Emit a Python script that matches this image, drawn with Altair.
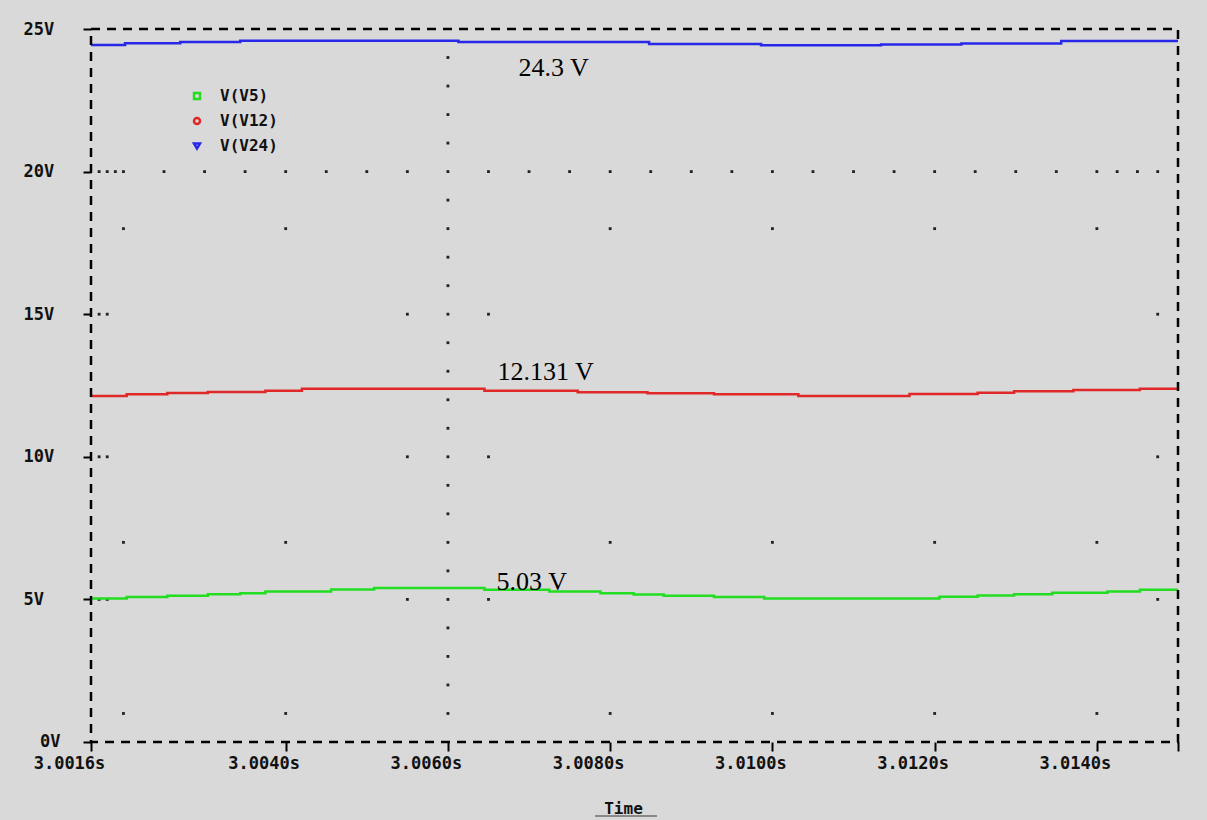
import altair as alt
import pandas as pd

# Trace names, colours and legend symbols
names = ["V(V5)", "V(V12)", "V(V24)"]
colors = ["#22dd22", "#e02828", "#2828e8"]
shapes = ["square", "circle", "triangle-down"]

# Sampled transient traces (time in s, voltage in V), held between samples
v5_t = [3.00160, 3.00204, 3.00254, 3.00304, 3.00344, 3.00375, 3.00456, 3.00509,
        3.00645, 3.00725, 3.00788, 3.00829, 3.00866, 3.00928, 3.00990, 3.01206,
        3.01253, 3.01298, 3.01345, 3.01413, 3.01453, 3.01500]
v5_v = [5.03, 5.08, 5.13, 5.18, 5.22, 5.28, 5.35, 5.40,
        5.34, 5.28, 5.22, 5.17, 5.13, 5.08, 5.03, 5.09,
        5.14, 5.18, 5.23, 5.28, 5.34, 5.34]

v12_t = [3.00160, 3.00204, 3.00254, 3.00304, 3.00375, 3.00420, 3.00645, 3.00760,
         3.00846, 3.00928, 3.01032, 3.01169, 3.01253, 3.01298, 3.01371, 3.01453,
         3.01500]
v12_v = [12.13, 12.19, 12.24, 12.27, 12.32, 12.39, 12.32, 12.26,
         12.23, 12.19, 12.131, 12.20, 12.25, 12.30, 12.34, 12.39,
         12.39]

v24_t = [3.00160, 3.00202, 3.00270, 3.00344, 3.00613, 3.00848, 3.00986, 3.01134,
         3.01233, 3.01356, 3.01500]
v24_v = [24.44, 24.50, 24.54, 24.59, 24.54, 24.47, 24.43, 24.46,
         24.49, 24.58, 24.58]

# Value annotations: text, anchor time, anchor voltage
note_text = ["24.3 V", "12.131 V", "5.03 V"]
note_t = [3.00687, 3.00661, 3.00660]
note_v = [23.35, 12.69, 5.33]

# Axis ticks
x_ticks = [3.0016, 3.0040, 3.0060, 3.0080, 3.0100, 3.0120, 3.0140, 3.0150]
y_ticks = [0, 5, 10, 15, 20, 25]

# Dotted grid marks of the probe window
row20_t = [3.0017, 3.0018, 3.0019, 3.0020, 3.0025, 3.0030, 3.0035, 3.0040,
           3.0045, 3.0050, 3.0055, 3.0060, 3.0065, 3.0070, 3.0075, 3.0080,
           3.0085, 3.0090, 3.0095, 3.0100, 3.0105, 3.0110, 3.0115, 3.0120,
           3.0125, 3.0130, 3.0135, 3.0140, 3.01425, 3.0145, 3.01475]
col_v = [1, 2, 3, 4, 5, 6, 7, 8, 9, 10, 11, 12, 13, 14, 15, 16, 17, 18, 19,
         21, 22, 23, 24]
sparse_rows_v = [18, 7, 1]
sparse_rows_t = [3.0020, 3.0040, 3.0080, 3.0100, 3.0120, 3.0140]
mid_rows_v = [15, 10, 5]
mid_rows_t = [3.0017, 3.0018, 3.0055, 3.0065, 3.01475]

MONO = "DejaVu Sans Mono"

trace_t = [v5_t, v12_t, v24_t]
trace_v = [v5_v, v12_v, v24_v]
traces = pd.concat(
    [pd.DataFrame({"t": t, "v": v, "series": n}) for t, v, n in zip(trace_t, trace_v, names)],
    ignore_index=True,
)

dot_rows = [{"t": t, "v": 20} for t in row20_t]
dot_rows += [{"t": 3.0060, "v": v} for v in col_v]
dot_rows += [{"t": t, "v": v} for v in sparse_rows_v for t in sparse_rows_t]
dot_rows += [{"t": t, "v": v} for v in mid_rows_v for t in mid_rows_t]
dots = pd.DataFrame(dot_rows)

notes = pd.DataFrame({"t": note_t, "v": note_v, "label": note_text})

x_scale = alt.Scale(domain=[3.0016, 3.0150], nice=False, zero=False)
y_scale = alt.Scale(domain=[0, 25], nice=False, zero=True)
color_scale = alt.Scale(domain=names, range=colors)
shape_scale = alt.Scale(domain=names, range=shapes)

x_axis = alt.Axis(
    values=x_ticks,
    labelExpr="datum.value > 3.0145 ? '' : format(datum.value, '.4f') + 's'",
    grid=False, domain=False, zindex=2,
    tickColor="black", tickSize=9, tickWidth=2,
    labelFont=MONO, labelFontSize=17, labelFontWeight="bold", labelColor="#111",
    labelOffset=-22, labelPadding=4, labelFlush=False, labelOverlap=False,
    title="Time", titleFont=MONO, titleFontSize=16, titleFontWeight="bold",
    titleColor="#111", titleX=532, titleY=66, titleBaseline="middle",
    titleAlign="center",
)
y_axis = alt.Axis(
    values=y_ticks,
    labelExpr="datum.value == 0 ? '' : datum.value + 'V'",
    grid=False, domain=False, zindex=2,
    tickColor="black", tickSize=8, tickWidth=2,
    labelFont=MONO, labelFontSize=17, labelFontWeight="bold", labelColor="#111",
    labelAlign="left", labelBaseline="middle", labelPadding=60,
    title=None,
)
legend = alt.Legend(title=None)

grid_dots = alt.Chart(dots).mark_square(size=8, color="#222222", opacity=1).encode(
    x=alt.X("t:Q", scale=x_scale, axis=x_axis),
    y=alt.Y("v:Q", scale=y_scale, axis=y_axis),
)

# One step line per probe trace
trace_layers = [
    alt.Chart(traces).transform_filter(alt.datum.series == n).mark_line(
        interpolate="step-after", strokeWidth=2.5, color=c
    ).encode(x=alt.X("t:Q", scale=x_scale), y=alt.Y("v:Q", scale=y_scale))
    for n, c in zip(names, colors)
]

frame = alt.Chart(pd.DataFrame({"k": [0]})).mark_rect(
    fill=None, stroke="black", strokeWidth=2.5, strokeDash=[9, 7]
).encode(
    x=alt.datum(3.0016), x2=alt.datum(3.0150), y=alt.datum(0), y2=alt.datum(25)
)

annotations = alt.Chart(notes).mark_text(
    font="Liberation Serif", fontSize=26, align="left", baseline="alphabetic",
    color="black",
).encode(x="t:Q", y="v:Q", text="label:N")

# Legend entries only: the layer itself draws no points
legend_marks = alt.Chart(traces).transform_filter("false").mark_point(
    filled=False, size=36, strokeWidth=2.5, opacity=1
).encode(
    x="t:Q", y="v:Q",
    color=alt.Color("series:N", scale=color_scale, legend=legend),
    shape=alt.Shape("series:N", scale=shape_scale, legend=legend),
)

zero_label = alt.Chart(pd.DataFrame({"v": [0], "label": ["0V"]})).mark_text(
    font=MONO, fontSize=17, fontWeight="bold", color="#111",
    align="left", baseline="middle",
).encode(x=alt.value(-51), y=alt.Y("v:Q", scale=y_scale), text="label:N")

underline = alt.Chart(pd.DataFrame({"k": [0]})).mark_rule(
    color="#888888", strokeWidth=2
).encode(x=alt.value(504), x2=alt.value(566), y=alt.value(787))

chart = alt.layer(
    grid_dots, *trace_layers, frame, annotations, legend_marks, zero_label, underline
).properties(
    width=1087, height=713,
    autosize=alt.AutoSizeParams(type="none"),
    padding={"left": 91, "top": 29, "right": 29, "bottom": 78},
    background="#d9d9d9",
).configure_view(
    stroke=None
).configure_legend(
    orient="none", legendX=98, legendY=59, padding=0,
    labelFont=MONO, labelFontSize=16, labelFontWeight="bold", labelColor="#111",
    labelOffset=15, rowPadding=9, symbolSize=36, symbolStrokeWidth=2.5,
    symbolOpacity=1,
)

chart.save("out.html", embed_options={"renderer": "svg", "actions": False})
